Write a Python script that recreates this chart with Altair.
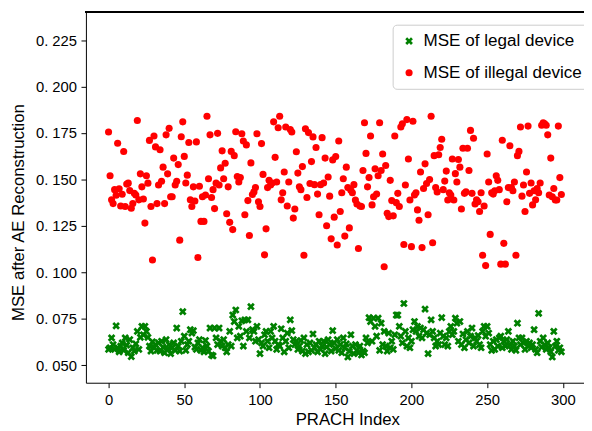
import altair as alt
import pandas as pd

# ---------------- data ----------------
series_names = ["MSE of legal device", "MSE of illegal device"]
series_colors = ["#008000", "#ff0000"]
x_ticks = [0, 50, 100, 150, 200, 250, 300]
y_ticks = [0.05, 0.075, 0.1, 0.125, 0.15, 0.175, 0.2, 0.225]

legal_mse = [
    0.0585, 0.0594, 0.0647, 0.0611, 0.0585, 0.0712, 0.0594, 0.0572, 0.0603, 0.0620,
    0.0580, 0.0647, 0.0608, 0.0567, 0.0638, 0.0546, 0.0594, 0.0576, 0.0615, 0.0682,
    0.0585, 0.0650, 0.0709, 0.0664, 0.0709, 0.0682, 0.0650, 0.0603, 0.0576, 0.0626,
    0.0594, 0.0611, 0.0580, 0.0620, 0.0576, 0.0629, 0.0597, 0.0567, 0.0638, 0.0585,
    0.0611, 0.0562, 0.0594, 0.0620, 0.0580, 0.0700, 0.0603, 0.0576, 0.0629, 0.0788,
    0.0656, 0.0580, 0.0611, 0.0629, 0.0691, 0.0673, 0.0686, 0.0597, 0.0585, 0.0620,
    0.0638, 0.0580, 0.0594, 0.0572, 0.0633, 0.0603, 0.0576, 0.0700, 0.0555, 0.0550,
    0.0700, 0.0647, 0.0611, 0.0700, 0.0629, 0.0603, 0.0638, 0.0594, 0.0572, 0.0611,
    0.0682, 0.0603, 0.0770, 0.0735, 0.0797, 0.0647, 0.0709, 0.0656, 0.0739, 0.0603,
    0.0744, 0.0682, 0.0744, 0.0647, 0.0815, 0.0691, 0.0682, 0.0629, 0.0709, 0.0638,
    0.0562, 0.0620, 0.0603, 0.0664, 0.0682, 0.0629, 0.0594, 0.0682, 0.0647, 0.0709,
    0.0629, 0.0585, 0.0611, 0.0603, 0.0696, 0.0647, 0.0572, 0.0629, 0.0673, 0.0594,
    0.0744, 0.0686, 0.0638, 0.0611, 0.0629, 0.0585, 0.0603, 0.0633, 0.0576, 0.0647,
    0.0562, 0.0611, 0.0572, 0.0620, 0.0580, 0.0668, 0.0594, 0.0611, 0.0572, 0.0629,
    0.0585, 0.0603, 0.0629, 0.0562, 0.0597, 0.0638, 0.0611, 0.0576, 0.0686, 0.0620,
    0.0590, 0.0638, 0.0580, 0.0611, 0.0567, 0.0647, 0.0594, 0.0615, 0.0544, 0.0576,
    0.0664, 0.0603, 0.0562, 0.0611, 0.0580, 0.0567, 0.0603, 0.0555, 0.0576, 0.0567,
    0.0647, 0.0620, 0.0756, 0.0735, 0.0629, 0.0753, 0.0709, 0.0656, 0.0753, 0.0580,
    0.0726, 0.0611, 0.0682, 0.0603, 0.0576, 0.0673, 0.0594, 0.0629, 0.0585, 0.0664,
    0.0770, 0.0770, 0.0709, 0.0656, 0.0620, 0.0832, 0.0682, 0.0603, 0.0647, 0.0594,
    0.0629, 0.0691, 0.0735, 0.0682, 0.0709, 0.0656, 0.0700, 0.0647, 0.0691, 0.0802,
    0.0673, 0.0562, 0.0664, 0.0744, 0.0682, 0.0647, 0.0603, 0.0629, 0.0611, 0.0673,
    0.0756, 0.0656, 0.0611, 0.0647, 0.0603, 0.0682, 0.0709, 0.0664, 0.0682, 0.0753,
    0.0726, 0.0629, 0.0735, 0.0611, 0.0668, 0.0594, 0.0638, 0.0682, 0.0620, 0.0656,
    0.0700, 0.0603, 0.0647, 0.0629, 0.0660, 0.0611, 0.0594, 0.0682, 0.0709, 0.0656,
    0.0709, 0.0673, 0.0611, 0.0580, 0.0629, 0.0585, 0.0638, 0.0603, 0.0647, 0.0656,
    0.0594, 0.0629, 0.0603, 0.0638, 0.0682, 0.0611, 0.0585, 0.0629, 0.0603, 0.0580,
    0.0726, 0.0647, 0.0611, 0.0647, 0.0620, 0.0585, 0.0629, 0.0603, 0.0620, 0.0594,
    0.0611, 0.0691, 0.0585, 0.0567, 0.0779, 0.0629, 0.0597, 0.0647, 0.0611, 0.0585,
    0.0620, 0.0594, 0.0572, 0.0544, 0.0682, 0.0603, 0.0629, 0.0580, 0.0594, 0.0572,
]

illegal_mse = [
    0.1755, 0.1520, 0.1390, 0.1370, 0.1445, 0.1415, 0.1695, 0.1450, 0.1357, 0.1420,
    0.1650, 0.1354, 0.1475, 0.1480, 0.1440, 0.1345, 0.1370, 0.1425, 0.1416, 0.1817,
    0.1390, 0.1530, 0.1460, 0.1395, 0.1265, 0.1520, 0.1480, 0.1710, 0.1354, 0.1066,
    0.1734, 0.1675, 0.1370, 0.1470, 0.1660, 0.1490, 0.1566, 0.1370, 0.1740, 0.1530,
    0.1775, 0.1407, 0.1407, 0.1615, 0.1470, 0.1490, 0.1580, 0.1173, 0.1730, 0.1810,
    0.1624, 0.1481, 0.1523, 0.1699, 0.1390, 0.1354, 0.1460, 0.1384, 0.1702, 0.1080,
    0.1463, 0.1274, 0.1407, 0.1274, 0.1416, 0.1840, 0.1504, 0.1740, 0.1403, 0.1445,
    0.1343, 0.1480, 0.1748, 0.1470, 0.1562, 0.1654, 0.1504, 0.1587, 0.1315, 0.1460,
    0.1269, 0.1651, 0.1230, 0.1628, 0.1757, 0.1516, 0.1486, 0.1510, 0.1746, 0.1707,
    0.1310, 0.1686, 0.1386, 0.1198, 0.1589, 0.1419, 0.1433, 0.1456, 0.1746, 0.1380,
    0.1354, 0.1693, 0.1527, 0.1094, 0.1234, 0.1456, 0.1495, 0.1470, 0.1481, 0.1810,
    0.1619, 0.1486, 0.1778, 0.1840, 0.1390, 0.1428, 0.1540, 0.1782, 0.1357, 0.1486,
    0.1769, 0.1755, 0.1292, 0.1341, 0.1649, 0.1534, 0.1460, 0.1445, 0.1569, 0.1092,
    0.1773, 0.1403, 0.1752, 0.1478, 0.1596, 0.1729, 0.1472, 0.1672, 0.1421, 0.1310,
    0.1472, 0.1725, 0.1481, 0.1615, 0.1251, 0.1513, 0.1410, 0.1180, 0.1605, 0.1297,
    0.1623, 0.1147, 0.1707, 0.1327, 0.1428, 0.1504, 0.1195, 0.1566, 0.1456, 0.1239,
    0.1442, 0.1428, 0.1472, 0.1389, 0.1368, 0.1128, 0.1357, 0.1354, 0.1548, 0.1805,
    0.1640, 0.1460, 0.1510, 0.1734, 0.1363, 0.1407, 0.1557, 0.1421, 0.1520, 0.1805,
    0.1548, 0.1637, 0.1030, 0.1575, 0.1318, 0.1300, 0.1495, 0.1386, 0.1304, 0.1734,
    0.1375, 0.1425, 0.1354, 0.1782, 0.1800, 0.1150, 0.1470, 0.1822, 0.1610, 0.1389,
    0.1138, 0.1813, 0.1416, 0.1428, 0.1336, 0.1280, 0.1540, 0.1133, 0.1451, 0.1584,
    0.1478, 0.1310, 0.1499, 0.1840, 0.1159, 0.1628, 0.1456, 0.1433, 0.1633, 0.1672,
    0.1716, 0.1445, 0.1491, 0.1545, 0.1389, 0.1428, 0.1416, 0.1610, 0.1389, 0.1531,
    0.1486, 0.1607, 0.1566, 0.1341, 0.1668, 0.1425, 0.1433, 0.1668, 0.1548, 0.1764,
    0.1425, 0.1722, 0.1368, 0.1390, 0.1380, 0.1327, 0.1428, 0.1092, 0.1357, 0.1036,
    0.1637, 0.1486, 0.1204, 0.1428, 0.1421, 0.1439, 0.1520, 0.1495, 0.1445, 0.1044,
    0.1711, 0.1156, 0.1044, 0.1380, 0.1456, 0.1681, 0.1456, 0.1439, 0.1486, 0.1092,
    0.1628, 0.1651, 0.1782, 0.1410, 0.1470, 0.1327, 0.1540, 0.1787, 0.1425, 0.1481,
    0.1363, 0.1439, 0.1390, 0.1451, 0.1428, 0.1481, 0.1792, 0.1805, 0.1800, 0.1792,
    0.1740, 0.1416, 0.1615, 0.1407, 0.1451, 0.1389, 0.1389, 0.1787, 0.1510, 0.1419,
]

prach_index = list(range(len(legal_mse)))

df = pd.DataFrame({
    "PRACH Index": prach_index + list(range(len(illegal_mse))),
    "MSE": legal_mse + illegal_mse,
    "series": [series_names[0]] * len(legal_mse) + [series_names[1]] * len(illegal_mse),
})

# ---------------- styling ----------------
FONT = "Liberation Sans"
W, H = 505, 376
X_SHAPE = ("M-1.08,-0.54L-0.54,-1.08L0,-0.54L0.54,-1.08L1.08,-0.54L0.54,0L1.08,0.54"
           "L0.54,1.08L0,0.54L-0.54,1.08L-1.08,0.54L-0.54,0Z")

legend = alt.Legend(
    title=None, orient="none", legendX=311, legendY=13,
    fillColor="white", strokeColor="#cccccc", cornerRadius=4, padding=8,
    labelFont=FONT, labelFontSize=17.3, labelColor="black", labelOffset=6,
    labelLimit=400,
    rowPadding=14, symbolSize=52, symbolStrokeWidth=0, symbolOpacity=1,
)

points = alt.Chart(df).mark_point(filled=True, size=52, opacity=1, strokeWidth=0).encode(
    x=alt.X("PRACH Index:Q",
            scale=alt.Scale(domain=[-14.95, 313.95], nice=False, zero=False),
            axis=alt.Axis(values=x_ticks, title="PRACH Index", format="d",
                          titleX=265, titleY=42.5, titleBaseline="alphabetic",
                          titleAlign="center", labelPadding=5)),
    y=alt.Y("MSE:Q",
            scale=alt.Scale(domain=[0.04056, 0.2402], nice=False, zero=False),
            axis=alt.Axis(values=y_ticks, title="MSE after AE Reconstruction",
                          labelExpr="replace(format(datum.value, '.3f'), '0.', '0. ')",
                          titleAngle=270, titleX=-63.5, titleY=203,
                          titleBaseline="alphabetic", titleAlign="center",
                          labelPadding=4.5)),
    color=alt.Color("series:N", scale=alt.Scale(domain=series_names, range=series_colors),
                    legend=legend),
    shape=alt.Shape("series:N", scale=alt.Scale(domain=series_names, range=[X_SHAPE, "circle"]),
                    legend=legend),
    order=alt.Order("order_key:Q"),
).transform_calculate(order_key="datum.series == 'MSE of legal device' ? 0 : 1")

top_frame = alt.Chart(df).mark_rule(color="black", strokeWidth=1).encode(
    x=alt.value(0), x2=alt.value(W), y=alt.value(0)
)

chart = alt.layer(points, top_frame).properties(
    width=W, height=H,
    autosize=alt.AutoSizeParams(type="none"),
    padding={"left": 79, "top": 1, "right": 0, "bottom": 45},
).configure_view(stroke=None).configure_axis(
    grid=False, domainColor="black", domainWidth=1, tickColor="black", tickSize=5,
    tickWidth=1, labelFont=FONT, labelFontSize=15, labelColor="black",
    titleFont=FONT, titleFontSize=17, titleColor="black", titleFontWeight="normal",
)

chart.save("out.html", embed_options={"renderer": "svg", "actions": False})
